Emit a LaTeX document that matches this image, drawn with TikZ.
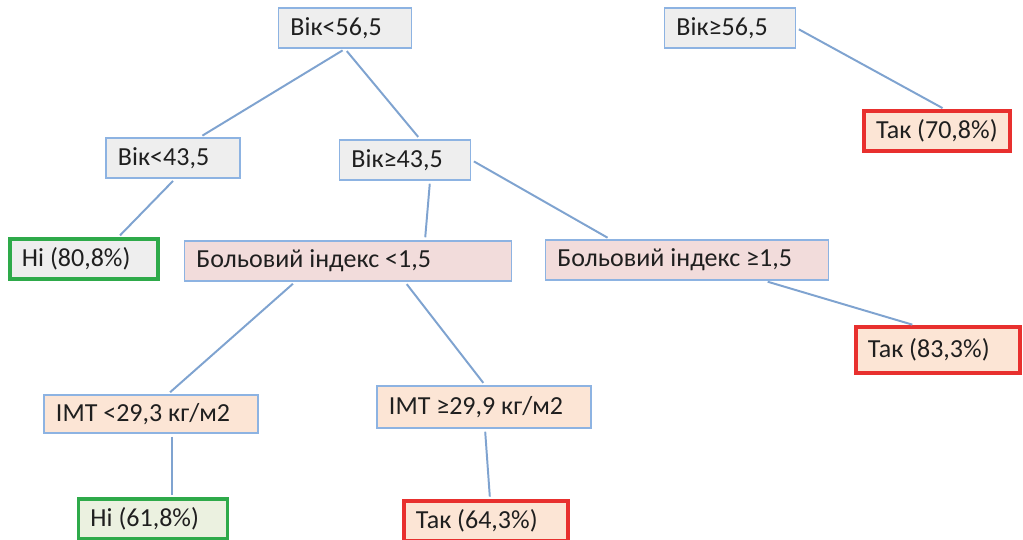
\documentclass[tikz,border=0pt]{standalone}
\usepackage{fontspec}
\setmainfont{Carlito}
\usetikzlibrary{calc}
\definecolor{edgeblue}{HTML}{7FA3D0}
\definecolor{boxblue}{HTML}{8DB3E2}
\definecolor{fillgrey}{HTML}{EEEEEE}
\definecolor{fillpink}{HTML}{F2DCDB}
\definecolor{fillpeach}{HTML}{FCE5D5}
\definecolor{fillgreen}{HTML}{EBF1E0}
\definecolor{redline}{HTML}{E8302E}
\definecolor{greenline}{HTML}{2EAA4A}

\begin{document}
\begin{tikzpicture}[x=0.025cm, y=-0.025cm,
  every node/.style={font=\fontsize{18.5}{21}\selectfont, text=black!88,
    align=flush left, inner xsep=0.3cm, minimum height=1cm},
  cond/.style={draw=boxblue, line width=1.3pt, fill=fillgrey},
  pain/.style={draw=boxblue, line width=1.3pt, fill=fillpink},
  bmi/.style={draw=boxblue, line width=1.3pt, fill=fillpeach},
  yes/.style={draw=redline, line width=2.2pt, fill=fillpeach},
  no/.style={draw=greenline, line width=2.2pt},
  edge/.style={draw=edgeblue, line width=1.4pt, shorten >=2pt, shorten <=2pt}]
\useasboundingbox (0,0) rectangle (1023,539);
\node [cond, text width=2.725cm] (age1) at (345,28) {Вік<56,5};
\node [cond, text width=2.675cm] (age2) at (730,28) {Вік≥56,5};
\node [yes, text width=3.05cm] (yes708) at (937,131) {Так (70,8\%)};
\node [cond, text width=2.75cm] (age3) at (173,158) {Вік<43,5};
\node [cond, text width=2.675cm] (age4) at (405,160) {Вік≥43,5};
\node [no, fill=fillgrey, text width=3.1cm] (no808) at (84,259) {Ні (80,8\%)};
\node [pain, text width=7.575cm] (pain1) at (348,261) {Больовий індекс <1,5};
\node [pain, text width=6.475cm] (pain2) at (687,260) {Больовий індекс ≥1,5};
\node [yes, text width=3.5cm, minimum height=1.15cm] (yes833) at (938,350) {Так (83,3\%)};
\node [bmi, text width=4.75cm, minimum height=0.95cm] (bmi1) at (151,414) {IMT <29,3 кг/м2};
\node [bmi, text width=4.75cm, minimum height=1.05cm] (bmi2) at (484,407) {IMT ≥29,9 кг/м2};
\node [no, fill=fillgreen, text width=3.125cm] (no618) at (153,519) {Ні (61,8\%)};
\node [yes, text width=3.5cm] (yes643) at (486,521) {Так (64,3\%)};
\draw [edge] (age1.south) -- ($(age3.north)+(27,0)$);
\draw [edge] (age1.south) -- ($(age4.north)+(15,0)$);
\draw [edge] (age2.east) -- ($(yes708.north)+(8,0)$);
\draw [edge] ($(age3.south)+(2,0)$) -- ($(no808.north)+(34,0)$);
\draw [edge] ($(age4.south)+(25,0)$) -- ($(pain1.north)+(77,0)$);
\draw [edge] (age4.east) -- ($(pain2.north)+(-77,0)$);
\draw [edge] ($(pain2.south)+(78,0)$) -- ($(yes833.north)+(-23,0)$);
\draw [edge] ($(pain1.south)+(-53,0)$) -- ($(bmi1.north)+(17,0)$);
\draw [edge] ($(pain1.south)+(57,0)$) -- ($(bmi2.north)+(1,0)$);
\draw [edge] ($(bmi1.south)+(21,0)$) -- ($(no618.north)+(19,0)$);
\draw [edge] ($(bmi2.south)+(1,0)$) -- ($(yes643.north)+(4,0)$);
\end{tikzpicture}
\end{document}
